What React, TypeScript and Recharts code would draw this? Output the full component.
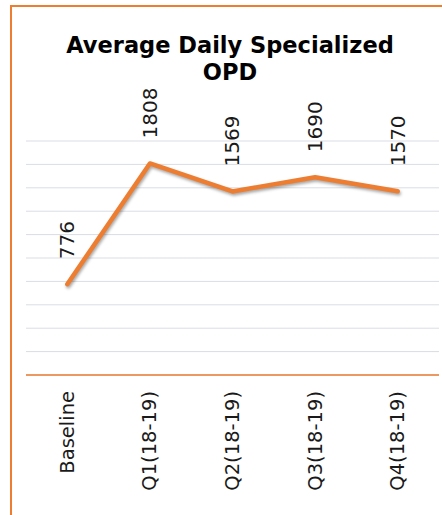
import React from 'react';
import { LineChart, Line, XAxis, YAxis, CartesianGrid, LabelList } from 'recharts';

const categories = ['Baseline', 'Q1(18-19)', 'Q2(18-19)', 'Q3(18-19)', 'Q4(18-19)'];
const opdValues = [776, 1808, 1569, 1690, 1570];
const yTicks = [0, 200, 400, 600, 800, 1000, 1200, 1400, 1600, 1800, 2000];

const data = categories.map((c, i) => ({ name: c, value: opdValues[i] }));

const ORANGE = '#ED7D31';
const FONT = '"DejaVu Sans", sans-serif';

const ValueLabel = (props: any) => {
  const { x, y, value } = props;
  const ty = y - 25;
  return (
    <text
      x={x}
      y={ty}
      transform={`rotate(-90, ${x}, ${ty})`}
      textAnchor="start"
      dominantBaseline="central"
      fontFamily={FONT}
      fontSize={20}
      fill="#1a1a1a"
    >
      {value}
    </text>
  );
};

const Tick = (props: any) => {
  const { x, payload } = props;
  const ty = 391;
  return (
    <text
      x={x}
      y={ty}
      transform={`rotate(-90, ${x}, ${ty})`}
      textAnchor="end"
      dominantBaseline="central"
      fontFamily={FONT}
      fontSize={19.5}
      fill="#1a1a1a"
    >
      {payload.value}
    </text>
  );
};

export default function App() {
  return (
    <div style={{ position: 'absolute', left: 0, top: 0, width: 442, height: 515, overflow: 'hidden', background: '#fff' }}>
      <style>{`.recharts-line-curve{filter:drop-shadow(1px 2px 1.5px rgba(0,0,0,0.35));}`}</style>
      <div
        style={{
          position: 'absolute',
          left: 10,
          top: 5,
          width: 460,
          height: 540,
          borderTop: `2px solid ${ORANGE}`,
          borderLeft: `2px solid ${ORANGE}`,
          boxSizing: 'border-box',
        }}
      />
      <div
        style={{
          position: 'absolute',
          left: 0,
          top: 32,
          width: 460,
          textAlign: 'center',
          fontFamily: FONT,
          fontWeight: 'bold',
          fontSize: 22.5,
          lineHeight: '27px',
          color: '#000',
        }}
      >
        Average Daily Specialized
        <br />
        OPD
      </div>
      <div style={{ position: 'absolute', left: 0, top: 0 }}>
        <LineChart
          width={442}
          height={515}
          data={data}
          margin={{ top: 141, right: 3, left: 26, bottom: 0 }}
        >
          <CartesianGrid horizontal vertical={false} stroke="#d9dde4" strokeWidth={1} />
          <XAxis
            dataKey="name"
            scale="band"
            height={140}
            axisLine={{ stroke: ORANGE, strokeWidth: 1.5 }}
            tickLine={false}
            tick={<Tick />}
            interval={0}
          />
          <YAxis hide domain={[0, 2000]} ticks={yTicks} />
          <Line
            type="linear"
            dataKey="value"
            stroke={ORANGE}
            strokeWidth={4.5}
            strokeLinecap="round"
            strokeLinejoin="round"
            dot={false}
            activeDot={false}
            isAnimationActive={false}
          >
            <LabelList dataKey="value" content={<ValueLabel />} />
          </Line>
        </LineChart>
      </div>
    </div>
  );
}
